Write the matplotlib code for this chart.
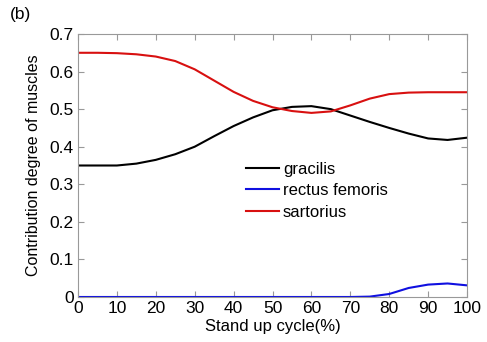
import matplotlib
matplotlib.use('Agg')
import matplotlib.pyplot as plt

plt.rcParams['font.family'] = ['Liberation Sans', 'DejaVu Sans']

# Stand up cycle (%) sample points
cycle = [0, 5, 10, 15, 20, 25, 30, 35, 40, 45, 50, 55, 60, 65, 70, 75, 80, 85, 90, 95, 100]

gracilis = [0.350, 0.350, 0.350, 0.355, 0.365, 0.380, 0.400, 0.428, 0.455, 0.478, 0.497, 0.506, 0.508, 0.500, 0.483, 0.466, 0.450, 0.435, 0.422, 0.418, 0.424]
rectus_femoris = [0.0, 0.0, 0.0, 0.0, 0.0, 0.0, 0.0, 0.0, 0.0, 0.0, 0.0, 0.0, 0.0, 0.0, 0.0, 0.001, 0.008, 0.024, 0.033, 0.036, 0.031]
sartorius = [0.650, 0.650, 0.649, 0.646, 0.640, 0.628, 0.606, 0.576, 0.546, 0.522, 0.505, 0.495, 0.490, 0.494, 0.510, 0.528, 0.540, 0.544, 0.545, 0.545, 0.545]

fig = plt.figure(figsize=(4.87, 3.42), dpi=100)
ax = fig.add_axes([78 / 487, 1 - 297 / 342, (467 - 78) / 487, (297 - 34) / 342])

ax.plot(cycle, gracilis, color='black', linewidth=1.5, label='gracilis')
ax.plot(cycle, rectus_femoris, color='#1010e0', linewidth=1.5, label='rectus femoris')
ax.plot(cycle, sartorius, color='#d81010', linewidth=1.5, label='sartorius')

ax.set_xlim(0, 100)
ax.set_ylim(0, 0.7)
ax.set_xticks(range(0, 101, 10))
ax.set_yticks([0, 0.1, 0.2, 0.3, 0.4, 0.5, 0.6, 0.7])
ax.set_yticklabels(['0', '0.1', '0.2', '0.3', '0.4', '0.5', '0.6', '0.7'])
ax.tick_params(direction='in', top=True, right=True, labelsize=12.5,
               color='#999999', length=4, pad=3)
for spine in ax.spines.values():
    spine.set_color('#999999')

ax.set_xlabel('Stand up cycle(%)', fontsize=12, labelpad=2)
ax.set_ylabel('Contribution degree of muscles', fontsize=11.5, labelpad=6)

ax.legend(loc='upper left', bbox_to_anchor=(0.415, 0.54), frameon=False,
          fontsize=12, handlelength=2.0, handletextpad=0.2,
          labelspacing=0.4, borderaxespad=0)

fig.text(10 / 487, 1 - 15 / 342, '(b)', fontsize=12.5, va='center', ha='left')

fig.savefig('out.png', dpi=100)
